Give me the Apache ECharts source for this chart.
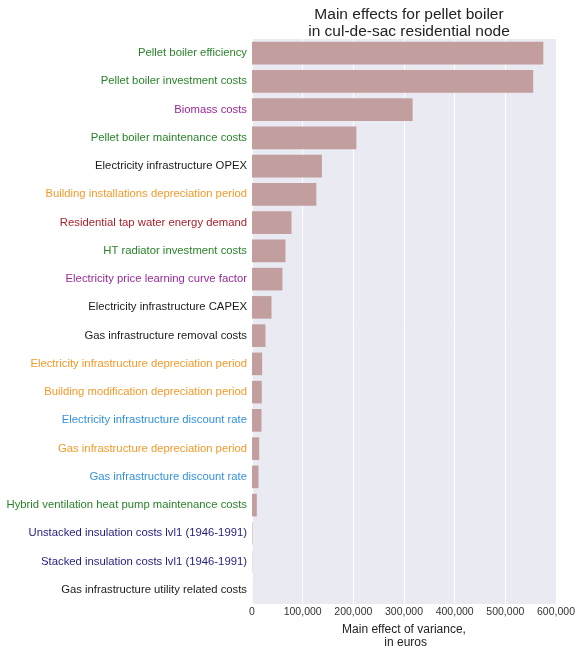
<!DOCTYPE html>
<html>
<head>
<meta charset="utf-8">
<script src="https://cdn.jsdelivr.net/npm/echarts@6/dist/echarts.min.js"></script>
<style>
html,body{margin:0;padding:0;background:#fff;}
#chart{width:576px;height:650px;}
</style>
</head>
<body>
<div id="chart"></div>
<script>
const categories = [
  "Pellet boiler efficiency",
  "Pellet boiler investment costs",
  "Biomass costs",
  "Pellet boiler maintenance costs",
  "Electricity infrastructure OPEX",
  "Building installations depreciation period",
  "Residential tap water energy demand",
  "HT radiator investment costs",
  "Electricity price learning curve factor",
  "Electricity infrastructure CAPEX",
  "Gas infrastructure removal costs",
  "Electricity infrastructure depreciation period",
  "Building modification depreciation period",
  "Electricity infrastructure discount rate",
  "Gas infrastructure depreciation period",
  "Gas infrastructure discount rate",
  "Hybrid ventilation heat pump maintenance costs",
  "Unstacked insulation costs lvl1 (1946-1991)",
  "Stacked insulation costs lvl1 (1946-1991)",
  "Gas infrastructure utility related costs"
];
const values = [575000, 555000, 317000, 206000, 138000, 127000, 78000, 66000, 60000, 38500, 26600, 20000, 19300, 18700, 14200, 12800, 9500, 1000, 600, 200];
const labelGroups = ["green","green","purple","green","black","orange","red","green","purple","black","black","orange","orange","blue","orange","blue","green","navy","navy","black"];
const groupColors = {green:"#2a832a", purple:"#9a2a9a", black:"#1a1a1a", orange:"#f39a2a", red:"#a8232b", blue:"#3392dc", navy:"#1e1e7e"};
const xTicks = [0, 100000, 200000, 300000, 400000, 500000, 600000];

const chart = echarts.init(document.getElementById('chart'));
chart.setOption({
  backgroundColor: '#ffffff',
  animation: false,
  title: {
    text: 'Main effects for pellet boiler\nin cul-de-sac residential node',
    left: 404, top: 1, textAlign: 'center',
    textStyle: {fontFamily: 'Liberation Sans, Arial, sans-serif', fontSize: 15.5, fontWeight: 'normal', color: '#222', lineHeight: 17}
  },
  grid: {left: 252, right: 20, top: 39, bottom: 46, backgroundColor: '#eaeaf2', show: true, borderWidth: 0, outerBoundsMode: 'none', containLabel: false},
  xAxis: {
    type: 'value', min: xTicks[0], max: xTicks[xTicks.length - 1], interval: 100000,
    name: 'Main effect of variance,\n in euros', nameLocation: 'middle', nameGap: 17,
    nameTextStyle: {fontFamily: 'Liberation Sans, Arial, sans-serif', fontSize: 12, color: '#222', lineHeight: 13, padding: [0,0,0,0], verticalAlign: 'top'},
    axisLine: {show: false}, axisTick: {show: false},
    splitLine: {show: true, lineStyle: {color: '#ffffff', width: 1}},
    axisLabel: {fontFamily: 'Liberation Sans, Arial, sans-serif', fontSize: 10.5, color: '#333', margin: 3,
      formatter: v => v.toLocaleString('en-US')}
  },
  yAxis: {
    type: 'category', data: categories, inverse: true,
    axisLine: {show: false}, axisTick: {show: false}, splitLine: {show: false},
    axisLabel: {fontFamily: 'Liberation Sans, Arial, sans-serif', fontSize: 11.3, margin: 5,
      color: (v, i) => groupColors[labelGroups[categories.indexOf(v)]]}
  },
  series: [{
    type: 'bar', data: values, barCategoryGap: '20%',
    itemStyle: {color: '#c29e9f'}
  }]
});
</script>
</body>
</html>
